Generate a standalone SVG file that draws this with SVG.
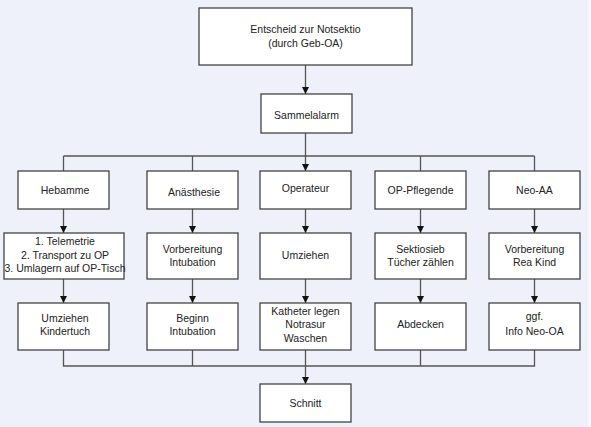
<svg xmlns="http://www.w3.org/2000/svg" width="591" height="427" viewBox="0 0 591 427">
<style>
.box{fill:#ffffff;stroke:#444;stroke-width:1.3}
.t{font-family:"Liberation Sans",Arial,sans-serif;font-size:10.5px;fill:#222;text-anchor:middle}
.c{fill:none;stroke:#555;stroke-width:1.3}
</style>
<defs>
<marker id="ah" viewBox="0 0 8 8" refX="8" refY="4" markerWidth="7" markerHeight="7" markerUnits="userSpaceOnUse" orient="auto">
<path d="M0,0 L8,4 L0,8 Z" fill="#111"/>
</marker>
</defs>
<rect x="0" y="0" width="588" height="427" fill="#eef1fa"/>
<rect x="588" y="0" width="3" height="427" fill="#f6f8fc"/>
<g id="connectors">
<path class="c" d="M305.5,65 V94" marker-end="url(#ah)"/>
<path class="c" d="M305.5,133 V156 M63.5,156 H534.5 M63.5,156 V171 M192.5,156 V171 M420.5,156 V171 M534.5,156 V171"/>
<path class="c" d="M305.5,156 V171" marker-end="url(#ah)"/>
<path class="c" d="M63.5,209 V233" marker-end="url(#ah)"/>
<path class="c" d="M192.5,209 V233" marker-end="url(#ah)"/>
<path class="c" d="M305.5,209 V233" marker-end="url(#ah)"/>
<path class="c" d="M420.5,209 V233" marker-end="url(#ah)"/>
<path class="c" d="M534.5,209 V233" marker-end="url(#ah)"/>
<path class="c" d="M63.5,279 V303" marker-end="url(#ah)"/>
<path class="c" d="M192.5,279 V303" marker-end="url(#ah)"/>
<path class="c" d="M305.5,279 V303" marker-end="url(#ah)"/>
<path class="c" d="M420.5,279 V303" marker-end="url(#ah)"/>
<path class="c" d="M534.5,279 V303" marker-end="url(#ah)"/>
<path class="c" d="M63.5,350 V366 H534.5 V350 M192.5,350 V366 M420.5,350 V366 M305.5,350 V366"/>
<path class="c" d="M305.5,366 V384" marker-end="url(#ah)"/>
</g>
<g id="entscheid"><rect class="box" x="199" y="8" width="213" height="57"/><text class="t" x="305.5" y="33">Entscheid zur Notsektio</text><text class="t" x="305.5" y="47">(durch Geb-OA)</text></g>
<g id="sammelalarm"><rect class="box" x="261" y="94" width="91" height="39"/><text class="t" x="306.5" y="119">Sammelalarm</text></g>
<g id="hebamme"><rect class="box" x="18" y="171" width="91" height="38"/><text class="t" x="65" y="194">Hebamme</text></g>
<g id="anaesthesie"><rect class="box" x="147" y="171" width="91" height="38"/><text class="t" x="194" y="196">Anästhesie</text></g>
<g id="operateur"><rect class="box" x="260" y="171" width="91" height="38"/><text class="t" x="305.5" y="192">Operateur</text></g>
<g id="op-pflegende"><rect class="box" x="375" y="171" width="91" height="38"/><text class="t" x="420.5" y="194">OP-Pflegende</text></g>
<g id="neo-aa"><rect class="box" x="489" y="171" width="91" height="38"/><text class="t" x="534.5" y="194">Neo-AA</text></g>
<g id="telemetrie"><rect class="box" x="4" y="233" width="120" height="46"/><text class="t" x="65" y="245">1. Telemetrie</text><text class="t" x="65" y="259">2. Transport zu OP</text><text class="t" x="65" y="272">3. Umlagern auf OP-Tisch</text></g>
<g id="vorbereitung-intubation"><rect class="box" x="147" y="233" width="91" height="46"/><text class="t" x="192.5" y="253">Vorbereitung</text><text class="t" x="192.5" y="266">Intubation</text></g>
<g id="umziehen"><rect class="box" x="260" y="233" width="91" height="46"/><text class="t" x="305.5" y="259">Umziehen</text></g>
<g id="sektiosieb"><rect class="box" x="375" y="233" width="91" height="46"/><text class="t" x="420.5" y="253">Sektiosieb</text><text class="t" x="420.5" y="266">Tücher zählen</text></g>
<g id="vorbereitung-rea"><rect class="box" x="489" y="233" width="91" height="46"/><text class="t" x="534.5" y="253">Vorbereitung</text><text class="t" x="534.5" y="266">Rea Kind</text></g>
<g id="umziehen-kindertuch"><rect class="box" x="18" y="303" width="91" height="47"/><text class="t" x="65" y="322">Umziehen</text><text class="t" x="65" y="335">Kindertuch</text></g>
<g id="beginn-intubation"><rect class="box" x="147" y="303" width="91" height="47"/><text class="t" x="192.5" y="322">Beginn</text><text class="t" x="192.5" y="335">Intubation</text></g>
<g id="katheter"><rect class="box" x="260" y="303" width="91" height="47"/><text class="t" x="305.5" y="315">Katheter legen</text><text class="t" x="305.5" y="328">Notrasur</text><text class="t" x="305.5" y="342">Waschen</text></g>
<g id="abdecken"><rect class="box" x="375" y="303" width="91" height="47"/><text class="t" x="420.5" y="328">Abdecken</text></g>
<g id="info-neo-oa"><rect class="box" x="489" y="303" width="91" height="47"/><text class="t" x="534.5" y="320">ggf.</text><text class="t" x="534.5" y="335">Info Neo-OA</text></g>
<g id="schnitt"><rect class="box" x="260" y="384" width="91" height="38"/><text class="t" x="305.5" y="407">Schnitt</text></g>
</svg>
